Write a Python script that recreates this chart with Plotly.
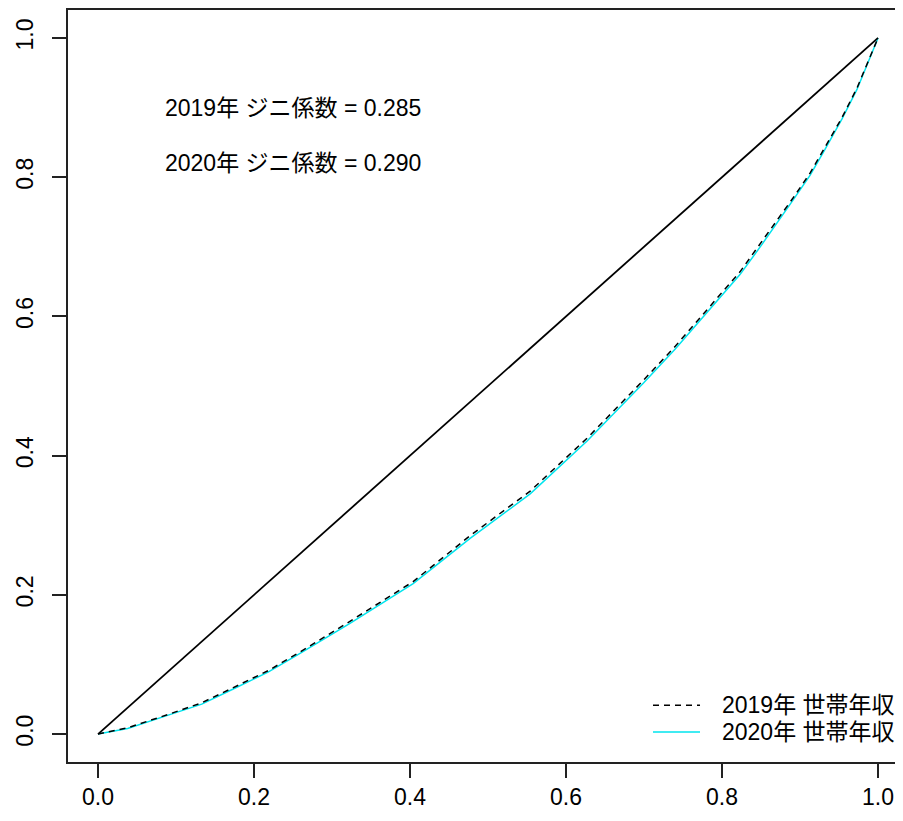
import plotly.graph_objects as go

# Lorenz curve data (cumulative share of households vs cumulative share of income)
x_2019 = [0, 0.038, 0.092, 0.133, 0.172, 0.218, 0.259, 0.323, 0.404, 0.477, 0.554, 0.627,
          0.699, 0.740, 0.823, 0.851, 0.891, 0.913, 0.932, 0.954, 0.973, 0.987, 1.0]
y_2019 = [0, 0.009, 0.029, 0.045, 0.066, 0.091, 0.118, 0.162, 0.219, 0.285, 0.349, 0.425,
          0.508, 0.557, 0.664, 0.707, 0.770, 0.806, 0.843, 0.886, 0.928, 0.965, 1.0]
x_2020 = [0, 0.038, 0.092, 0.133, 0.172, 0.218, 0.259, 0.323, 0.404, 0.477, 0.554, 0.627,
          0.699, 0.740, 0.823, 0.851, 0.891, 0.913, 0.932, 0.954, 0.973, 0.987, 1.0]
y_2020 = [0, 0.008, 0.028, 0.043, 0.064, 0.089, 0.116, 0.159, 0.216, 0.281, 0.345, 0.421,
          0.504, 0.553, 0.660, 0.703, 0.767, 0.803, 0.840, 0.884, 0.926, 0.963, 1.0]
x_equal = [0, 1]
y_equal = [0, 1]

tick_vals = [0.0, 0.2, 0.4, 0.6, 0.8, 1.0]
tick_text = ["0.0", "0.2", "0.4", "0.6", "0.8", "1.0"]

series_names = ["2019年 世帯年収", "2020年 世帯年収"]
gini_labels = ["2019年 ジニ係数 = 0.285", "2020年 ジニ係数 = 0.290"]
gini_pos_x = [0.25, 0.25]
gini_pos_y = [0.90, 0.82]

FONT = "Liberation Sans, Arial, Noto Sans CJK JP, sans-serif"
fs = 23

fig = go.Figure()
fig.add_trace(go.Scatter(x=x_2020, y=y_2020, mode="lines", name=series_names[1],
                         line=dict(color="#00E5EE", width=1.5), showlegend=False))
fig.add_trace(go.Scatter(x=x_2019, y=y_2019, mode="lines", name=series_names[0],
                         line=dict(color="black", width=1.5, dash="6px,5px"), showlegend=False))
fig.add_trace(go.Scatter(x=x_equal, y=y_equal, mode="lines", name="完全平等線",
                         line=dict(color="black", width=1.8), showlegend=False))

for t, xx, yy in zip(gini_labels, gini_pos_x, gini_pos_y):
    fig.add_annotation(x=xx, y=yy, xref="x", yref="y", text=t, showarrow=False,
                       xanchor="center", yanchor="middle",
                       font=dict(family=FONT, size=fs, color="black"))

# legend (manual, R-style without border)
leg_rows_y = [0.0756, 0.0398]
leg_styles = [dict(color="black", width=1.5, dash="6px,5px"),
              dict(color="#00E5EE", width=1.5)]
for name, ly, st in zip(series_names, leg_rows_y, leg_styles):
    fig.add_shape(type="line", xref="paper", yref="paper", x0=0.7006, x1=0.7569,
                  y0=ly, y1=ly, line=st)
    fig.add_annotation(x=0.781, y=ly, xref="paper", yref="paper", text=name,
                       showarrow=False, xanchor="left", yanchor="middle",
                       font=dict(family=FONT, size=fs, color="black"))

axis_common = dict(showgrid=False, zeroline=False, showline=True, linecolor="#222",
                   linewidth=1.5, ticks="outside", ticklen=14, tickwidth=1.5,
                   tickcolor="#222", tickvals=tick_vals, ticktext=tick_text,
                   tickfont=dict(family=FONT, size=fs, color="black"))

# page body has an 8px default margin, so the figure is sized to fit the window
fig.update_layout(
    width=895, height=813,
    margin=dict(l=60, r=0, t=0, b=59),
    plot_bgcolor="white", paper_bgcolor="white",
    xaxis=dict(range=[-0.0385, 1.032], mirror=True, **axis_common),
    yaxis=dict(range=[-0.0401, 1.0401], mirror=False, tickangle=-90,
               ticklabelstandoff=10, **axis_common),
    showlegend=False,
)

fig.write_html("out.html")
